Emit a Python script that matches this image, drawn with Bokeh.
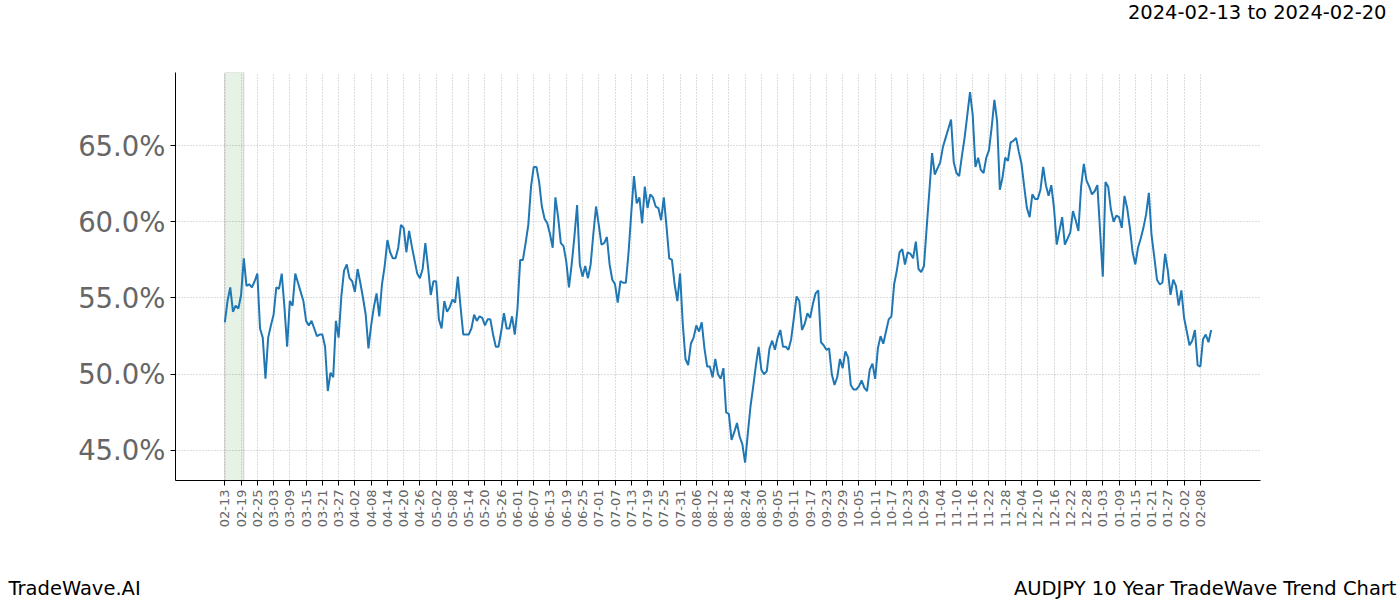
import math
from bokeh.plotting import figure
from bokeh.layouts import column
from bokeh.models import FixedTicker, PrintfTickFormatter, BoxAnnotation, Label, Range1d
from bokeh.embed import file_html
from bokeh.resources import INLINE

# Trend values (%) for each day starting 02-13
values = [
    53.4, 54.8, 55.7, 54.1, 54.5, 54.3, 55.2, 57.6, 55.8, 55.9,
    55.7, 56.1, 56.6, 53.0, 52.4, 49.7, 52.4, 53.2, 53.9, 55.7,
    55.6, 56.6, 54.4, 51.8, 54.8, 54.5, 56.6, 56.0, 55.4, 54.8,
    53.5, 53.2, 53.5, 53.0, 52.5, 52.6, 52.6, 51.8, 48.9, 50.1,
    49.8, 53.5, 52.4, 55.1, 56.8, 57.2, 56.3, 56.1, 55.4, 56.9,
    56.0, 55.0, 53.9, 51.7, 53.2, 54.4, 55.3, 53.8, 55.9, 57.1,
    58.8, 58.0, 57.6, 57.6, 58.3, 59.8, 59.6, 58.0, 59.4, 58.4,
    57.5, 56.6, 56.3, 56.9, 58.6, 57.0, 55.2, 56.1, 56.1, 53.6,
    53.0, 54.8, 54.1, 54.4, 54.9, 54.7, 56.4, 54.4, 52.6, 52.6,
    52.6, 53.0, 53.9, 53.5, 53.8, 53.7, 53.2, 53.6, 53.6, 52.6,
    51.8, 51.8, 52.8, 54.0, 53.0, 53.0, 53.8, 52.6, 54.3, 57.5,
    57.5, 58.6, 59.8, 62.3, 63.6, 63.6, 62.6, 61.0, 60.2, 59.9,
    59.2, 58.3, 61.6, 60.3, 58.6, 58.4, 57.4, 55.7, 57.2, 59.0,
    61.1, 57.2, 56.4, 57.1, 56.3, 57.2, 59.2, 61.0, 59.8, 58.5,
    58.6, 59.0, 57.2, 56.2, 55.9, 54.7, 56.1, 56.0, 56.0, 58.0,
    60.6, 63.0, 61.2, 61.6, 59.9, 62.3, 60.9, 61.8, 61.6, 61.0,
    60.9, 60.1, 61.6, 59.7, 57.6, 57.5, 55.9, 54.8, 56.6, 53.3,
    51.0, 50.6, 52.0, 52.4, 53.2, 52.8, 53.4, 51.7, 50.5, 50.5,
    49.8, 51.0, 50.0, 49.7, 50.4, 47.5, 47.4, 45.7, 46.2, 46.8,
    45.9, 45.4, 44.2, 46.1, 47.9, 49.2, 50.6, 51.8, 50.3, 50.0,
    50.2, 51.7, 52.2, 51.6, 52.4, 52.9, 51.8, 51.8, 51.6, 52.3,
    53.7, 55.1, 54.8, 52.9, 53.3, 54.0, 53.7, 54.6, 55.3, 55.5,
    52.1, 51.9, 51.6, 51.7, 50.0, 49.3, 49.8, 51.0, 50.4, 51.5,
    51.1, 49.3, 49.0, 49.0, 49.2, 49.6, 49.1, 48.9, 50.3, 50.7,
    49.7, 51.7, 52.5, 52.0, 52.8, 53.6, 53.8, 55.9, 56.8, 58.0,
    58.2, 57.2, 58.0, 57.9, 57.6, 58.7, 56.9, 56.7, 57.1, 59.6,
    62.0, 64.5, 63.1, 63.5, 63.9, 64.9, 65.5, 66.1, 66.7, 63.9,
    63.2, 63.0, 64.3, 65.5, 67.0, 68.5, 67.0, 63.6, 64.2, 63.4,
    63.2, 64.2, 64.7, 66.2, 68.0, 66.6, 62.1, 62.9, 64.2, 64.0,
    65.2, 65.3, 65.5, 64.6, 63.8, 62.3, 60.9, 60.3, 61.8, 61.5,
    61.5, 62.1, 63.6, 62.4, 61.7, 62.4, 60.9, 58.5, 59.4, 60.3,
    58.5, 58.9, 59.3, 60.7, 60.1, 59.4, 62.3, 63.8, 62.7, 62.3,
    61.8, 62.0, 62.4, 59.4, 56.4, 62.6, 62.3, 60.8, 60.0, 60.4,
    60.3, 59.6, 61.7, 60.9, 59.6, 58.0, 57.2, 58.3, 58.9, 59.6,
    60.5, 61.9, 59.1, 57.7, 56.2, 55.9, 56.0, 57.9, 56.8, 55.2,
    56.2, 55.8, 54.5, 55.5, 53.7, 52.8, 51.9, 52.2, 52.9, 50.6,
    50.5, 52.3, 52.6, 52.1, 52.9,
]
days = list(range(len(values)))

tick_labels = [
    "02-13", "02-19", "02-25", "03-03", "03-09", "03-15", "03-21", "03-27",
    "04-02", "04-08", "04-14", "04-20", "04-26", "05-02", "05-08", "05-14",
    "05-20", "05-26", "06-01", "06-07", "06-13", "06-19", "06-25", "07-01",
    "07-07", "07-13", "07-19", "07-25", "07-31", "08-06", "08-12", "08-18",
    "08-24", "08-30", "09-05", "09-11", "09-17", "09-23", "09-29", "10-05",
    "10-11", "10-17", "10-23", "10-29", "11-04", "11-10", "11-16", "11-22",
    "11-28", "12-04", "12-10", "12-16", "12-22", "12-28", "01-03", "01-09",
    "01-15", "01-21", "01-27", "02-02", "02-08",
]
tick_step = 6
y_ticks = [45, 50, 55, 60, 65]
highlight = (0, 7)

title_right = "2024-02-13 to 2024-02-20"
footer_left = "TradeWave.AI"
footer_right = "AUDJPY 10 Year TradeWave Trend Chart"

W = 1400
HEADER_H = 30
FOOTER_H = 40
MAIN_H = 600 - HEADER_H - FOOTER_H


def text_strip(height):
    f = figure(width=W, height=height, output_backend="svg", toolbar_location=None,
               x_range=Range1d(0, W), y_range=Range1d(0, height),
               x_axis_location=None, y_axis_location=None, min_border=0,
               frame_align=False)
    f.outline_line_color = None
    f.xgrid.visible = False
    f.ygrid.visible = False
    return f


header = text_strip(HEADER_H)
header.add_layout(Label(x=1386, y=HEADER_H - 12, text=title_right, text_align="right",
                        text_baseline="middle", text_font="DejaVu Sans",
                        text_font_size="19.5px", text_color="black"))

footer = text_strip(FOOTER_H)
footer.add_layout(Label(x=8, y=12, text=footer_left, text_align="left",
                        text_baseline="middle", text_font="DejaVu Sans",
                        text_font_size="19.5px", text_color="black"))
footer.add_layout(Label(x=1396, y=12, text=footer_right, text_align="right",
                        text_baseline="middle", text_font="DejaVu Sans",
                        text_font_size="19.5px", text_color="black"))

n = len(values)
span = n - 1
pad = 0.05 * span
p = figure(width=W, height=MAIN_H, output_backend="svg", toolbar_location=None,
           x_range=Range1d(-pad, span + pad), y_range=Range1d(43.03, 69.79),
           min_border_left=175, min_border_right=140, min_border_top=72 - HEADER_H,
           min_border_bottom=MAIN_H - (480 - HEADER_H), frame_align=False)
p.outline_line_color = None
p.background_fill_color = "white"

band = BoxAnnotation(left=highlight[0], right=highlight[1], fill_color="green",
                     fill_alpha=0.1, line_color="#888888", line_alpha=0.35, line_width=1,
                     level="underlay")
p.add_layout(band)

p.line(days, values, line_color="#1f77b4", line_width=2)

tick_pos = [i * tick_step for i in range(len(tick_labels))]
p.xaxis.ticker = FixedTicker(ticks=tick_pos)
p.xaxis.major_label_overrides = {pos: lab for pos, lab in zip(tick_pos, tick_labels)}
p.xaxis.major_label_orientation = math.pi / 2
p.xaxis.major_label_text_font = "DejaVu Sans"
p.xaxis.major_label_text_font_size = "13px"
p.xaxis.major_label_text_color = "#666666"
p.xaxis.minor_tick_line_color = None
p.xaxis.major_tick_in = 0
p.xaxis.major_tick_out = 5
p.xaxis.major_label_standoff = 4

p.yaxis.ticker = FixedTicker(ticks=y_ticks)
p.yaxis.formatter = PrintfTickFormatter(format="%.1f%%")
p.yaxis.major_label_text_font = "DejaVu Sans"
p.yaxis.major_label_text_font_size = "27.5px"
p.yaxis.major_label_text_color = "#666666"
p.yaxis.minor_tick_line_color = None
p.yaxis.major_tick_in = 0
p.yaxis.major_tick_out = 5
p.yaxis.major_label_standoff = 5

for ax in (p.xaxis, p.yaxis):
    ax.axis_line_color = "black"
    ax.axis_line_width = 1
    ax.major_tick_line_color = "black"

for g in (p.xgrid, p.ygrid):
    g.grid_line_color = "#aaaaaa"
    g.grid_line_dash = "1 2"
    g.grid_line_width = 0.8

layout = column(header, p, footer, spacing=0)
open("out.html", "w").write(file_html(layout, INLINE))
